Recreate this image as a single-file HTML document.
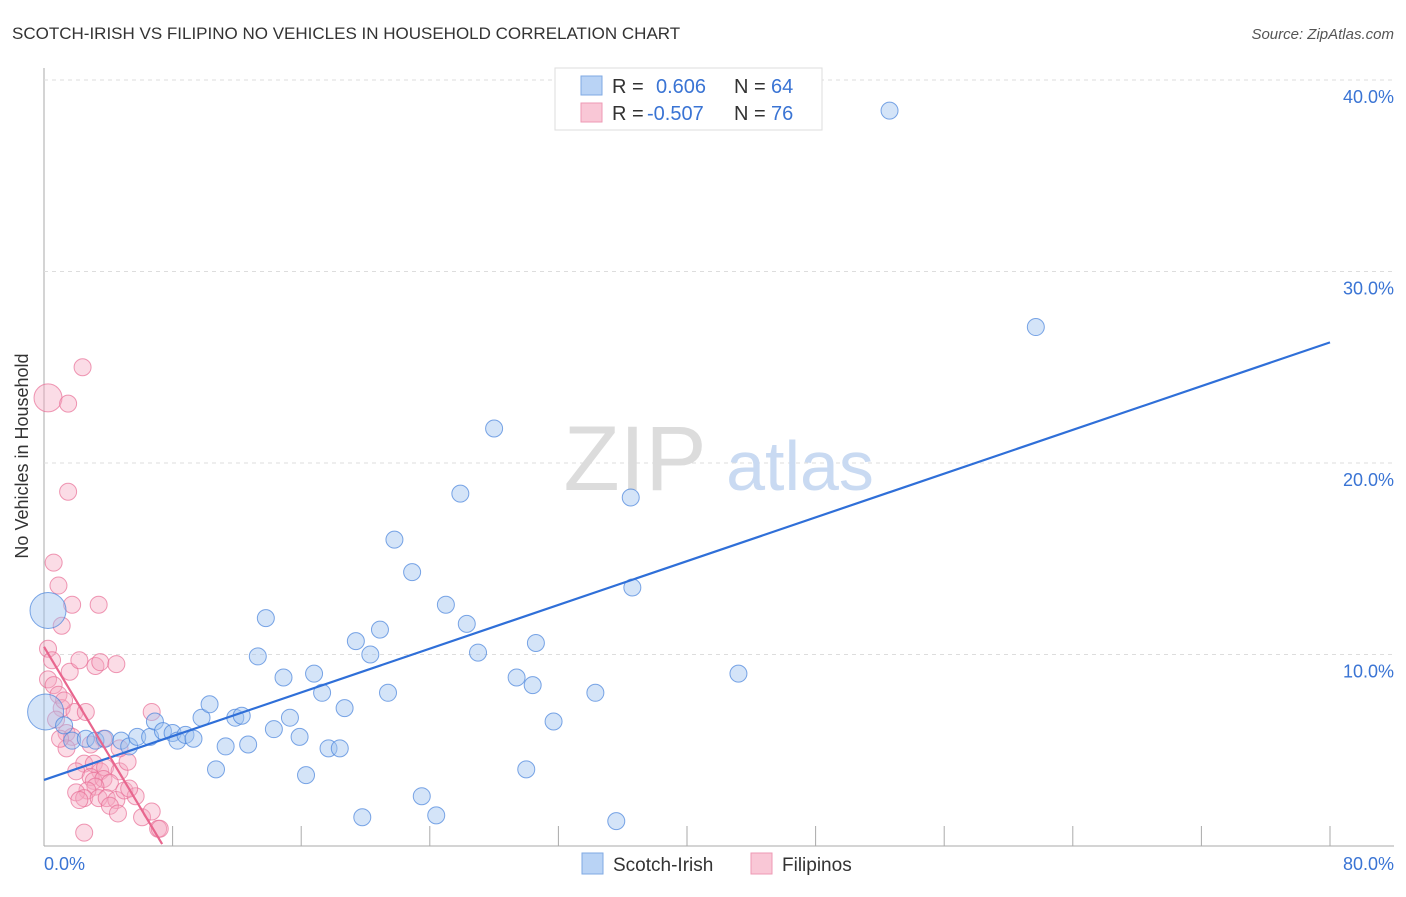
<!DOCTYPE html>
<html><head><meta charset="utf-8"><style>
body{margin:0;background:#fff;font-family:"Liberation Sans",sans-serif;}
svg text{font-family:"Liberation Sans",sans-serif;}
</style></head><body>
<svg width="1406" height="892" id="chart">
<text x="12" y="39" font-size="17" fill="#333">SCOTCH-IRISH VS FILIPINO NO VEHICLES IN HOUSEHOLD CORRELATION CHART</text>
<text x="1394" y="39" font-size="15" fill="#555" font-style="italic" text-anchor="end">Source: ZipAtlas.com</text>
<g id="grid"></g>
<text x="635" y="490" font-size="92" fill="#dcdcdc" text-anchor="middle" font-family="Liberation Serif">ZIP</text>
<text x="800" y="490" font-size="70" fill="#c9daf2" text-anchor="middle">atlas</text>
<g id="pts"></g>
<g id="lines"></g>
<text x="28" y="456" font-size="18" fill="#333" text-anchor="middle" transform="rotate(-90 28 456)">No Vehicles in Household</text>
<text x="44" y="870" font-size="18" fill="#3a74d4">0.0%</text>
<text x="1394" y="870" font-size="18" fill="#3a74d4" text-anchor="end">80.0%</text>
<g>
<rect x="555" y="68" width="267" height="62" fill="#fff" stroke="#ddd"/>
<rect x="581" y="76" width="21" height="19" fill="#b9d3f5" stroke="#7fa9e3"/>
<rect x="581" y="103" width="21" height="19" fill="#f9c7d6" stroke="#ee9ab4"/>
<text x="612" y="93" font-size="20" fill="#333">R =</text><text x="656" y="93" font-size="20" fill="#3a74d4">0.606</text>
<text x="734" y="93" font-size="20" fill="#333">N =</text><text x="771" y="93" font-size="20" fill="#3a74d4">64</text>
<text x="612" y="120" font-size="20" fill="#333">R =</text><text x="647" y="120" font-size="20" fill="#3a74d4">-0.507</text>
<text x="734" y="120" font-size="20" fill="#333">N =</text><text x="771" y="120" font-size="20" fill="#3a74d4">76</text>
</g>
<g>
<rect x="582" y="853" width="21" height="21" fill="#b9d3f5" stroke="#7fa9e3"/>
<text x="613" y="871" font-size="19" fill="#333">Scotch-Irish</text>
<rect x="751" y="853" width="21" height="21" fill="#f9c7d6" stroke="#ee9ab4"/>
<text x="782" y="871" font-size="19" fill="#333">Filipinos</text>
</g>
</svg>
<script>
const yTicks=[10,20,30,40];
const xTicks=[8,16,24,32,40,48,56,64,72,80];
const blueX=[0.25,0.1,1.25,1.75,2.6,3.2,3.8,4.8,5.3,5.8,6.6,6.9,7.4,8.0,8.3,8.8,9.3,9.8,10.3,10.7,11.3,11.9,12.3,12.7,13.3,13.8,14.3,14.9,15.3,15.9,16.3,16.8,17.3,17.7,18.4,18.7,19.4,19.8,20.3,20.9,21.4,21.8,22.9,23.5,24.4,25.0,25.9,26.3,27.0,28.0,29.4,30.0,30.4,30.6,31.7,34.3,35.6,36.5,36.6,43.2,52.6,61.7];
const blueY=[12.3,7.0,6.3,5.5,5.6,5.5,5.6,5.5,5.2,5.7,5.7,6.5,6.0,5.9,5.5,5.8,5.6,6.7,7.4,4.0,5.2,6.7,6.8,5.3,9.9,11.9,6.1,8.8,6.7,5.7,3.7,9.0,8.0,5.1,5.1,7.2,10.7,1.5,10.0,11.3,8.0,16.0,14.3,2.6,1.6,12.6,18.4,11.6,10.1,21.8,8.8,4.0,8.4,10.6,6.5,8.0,1.3,18.2,13.5,9.0,38.4,27.1];
const pinkX=[0.25,2.4,1.5,1.5,0.6,0.9,1.75,3.4,1.1,0.25,0.5,1.6,3.2,0.25,0.6,0.9,2.2,3.5,4.5,1.1,1.9,2.6,1.4,1.75,1.4,3.7,6.7,2.5,3.1,2.0,3.5,3.8,4.7,5.2,2.9,3.1,3.7,4.1,3.2,2.7,2.0,2.5,3.4,3.9,4.5,5.0,5.7,2.2,4.1,4.6,6.1,6.7,5.3,2.5,7.1,7.2,0.75,1.0,2.9,1.25,4.7];
const pinkY=[23.4,25.0,23.1,18.5,14.8,13.6,12.6,12.6,11.5,10.3,9.7,9.1,9.4,8.7,8.4,7.9,9.7,9.6,9.5,7.2,7.0,7.0,5.9,5.7,5.1,5.6,7.0,4.3,4.3,3.9,3.9,4.1,3.9,4.4,3.6,3.4,3.5,3.3,3.1,2.9,2.8,2.5,2.5,2.5,2.4,2.9,2.6,2.4,2.1,1.7,1.5,1.8,3.0,0.7,0.9,0.9,6.6,5.6,5.3,7.6,5.1];
const blueBig=[0,1];const pinkBig=[0];
const X=v=>44+v/80*1286, Y=v=>846-v*19.15;
const ns="http://www.w3.org/2000/svg";
const grid=document.getElementById('grid');
function mk(t,a,p){const e=document.createElementNS(ns,t);for(const k in a)e.setAttribute(k,a[k]);p.appendChild(e);return e;}
const ax=mk('line',{x1:44,y1:68,x2:44,y2:846,stroke:'#aaa'},grid);


const xa=mk('line',{x1:44,y1:846,x2:1394,y2:846,stroke:'#aaa'},grid);


yTicks.forEach(t=>{const l=mk('line',{x1:44,x2:1394,y1:Y(t),y2:Y(t),stroke:'#ddd','stroke-dasharray':'4,4'},grid);


const tx=mk('text',{x:1394,y:Y(t)+23,'font-size':18,fill:'#3a74d4','text-anchor':'end'},grid);tx.textContent=t.toFixed(1)+'%';

});
xTicks.forEach(t=>{const l=mk('line',{x1:X(t),x2:X(t),y1:826,y2:846,stroke:'#aaa'},grid);

});
const pts=document.getElementById('pts');
pinkX.forEach((v,i)=>{const c=mk('circle',{cx:X(v),cy:Y(pinkY[i]),r:pinkBig.includes(i)?14:8.5,fill:'rgba(246,168,192,0.4)',stroke:'rgba(232,110,150,0.7)','stroke-width':1},pts);

});
blueX.forEach((v,i)=>{const c=mk('circle',{cx:X(v),cy:Y(blueY[i]),r:blueBig.includes(i)?18:8.5,fill:'rgba(160,196,240,0.45)',stroke:'rgba(70,130,220,0.7)','stroke-width':1},pts);

});
const lines=document.getElementById('lines');
const bl=mk('line',{x1:X(0),y1:Y(3.45),x2:X(80),y2:Y(26.3),stroke:'#2f6fd8','stroke-width':2.2},lines);


const pl=mk('line',{x1:X(0),y1:Y(10.4),x2:X(7.35),y2:Y(0.1),stroke:'#e8668e','stroke-width':2.2},lines);


</script>
</body></html>
